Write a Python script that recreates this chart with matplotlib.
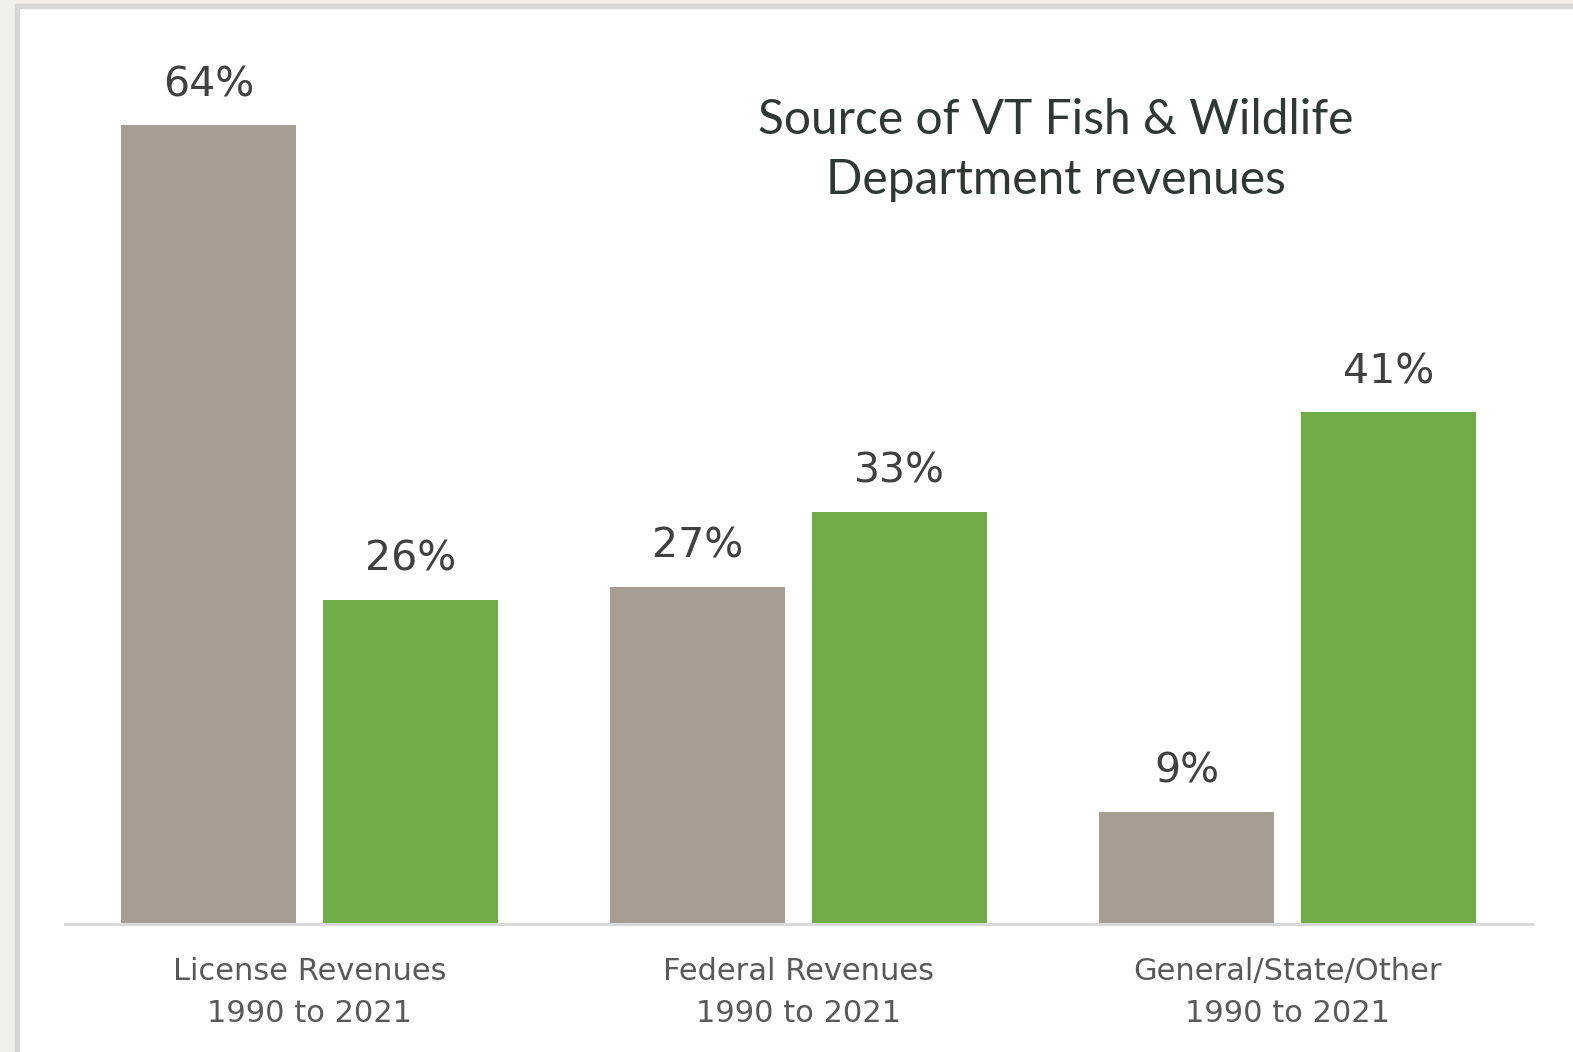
import matplotlib
matplotlib.use("Agg")
from matplotlib import pyplot as plt
from matplotlib.patches import Rectangle
import numpy as np

# Data
categories = ["License Revenues\n1990 to 2021",
              "Federal Revenues\n1990 to 2021",
              "General/State/Other\n1990 to 2021"]
share_1990 = [64, 27, 9]
share_2021 = [26, 33, 41]

W, H = 1573, 1052
fig = plt.figure(figsize=(W / 100, H / 100), dpi=100, facecolor="white")

# Frame around the slide (beige strip + thin gray border)
beige = "#f1efea"
fig.patches.append(Rectangle((0, 0), 15 / W, 1, transform=fig.transFigure,
                             color=beige, zorder=0))
fig.patches.append(Rectangle((0, 1 - 4 / H), 1, 4 / H, transform=fig.transFigure,
                             color=beige, zorder=0))
fig.patches.append(Rectangle((15 / W, 0), 4 / W, 1 - 4 / H, transform=fig.transFigure,
                             color="#d6d6d6", zorder=0))
fig.patches.append(Rectangle((15 / W, 1 - 8 / H), 1 - 15 / W, 4 / H, transform=fig.transFigure,
                             color="#d6d6d6", zorder=0))

# axes: x from 65 to 1532 px, baseline at 924 px from top
ax_left, ax_right = 65, 1532
ax_base, ax_top = 924, 43
ax = fig.add_axes([ax_left / W, (H - ax_base) / H,
                   (ax_right - ax_left) / W, (ax_base - ax_top) / H])
ax.set_facecolor("none")

x = np.arange(len(categories))
width = 0.358
off = 0.206
b1 = ax.bar(x - off, share_1990, width, color="#a89d92")
b2 = ax.bar(x + off, share_2021, width, color="#70ad47")

ax.set_xlim(-0.5, 2.5)
ax.set_ylim(0, (ax_base - ax_top) / 12.48)

for bars, vals in ((b1, share_1990), (b2, share_2021)):
    for rect, v in zip(bars, vals):
        ax.annotate(f"{v}%", (rect.get_x() + rect.get_width() / 2, v),
                    xytext=(0, 21), textcoords="offset points",
                    ha="center", va="baseline", fontsize=29.5, color="#404040")

for s in ("top", "right", "left"):
    ax.spines[s].set_visible(False)
ax.spines["bottom"].set_color("#d9d9d9")
ax.spines["bottom"].set_linewidth(2.2)
ax.set_yticks([])
ax.set_xticks(x)
ax.set_xticklabels(categories, fontsize=22, color="#595959", linespacing=1.55)
ax.tick_params(axis="x", length=0, pad=24)

fig.text(1056 / W, 1 - 150 / H, "Source of VT Fish & Wildlife\nDepartment revenues",
         ha="center", va="center", fontsize=34.5, color="#2f3833",
         family="Lato", linespacing=1.45)

fig.savefig("out.png", dpi=100, facecolor=fig.get_facecolor())
